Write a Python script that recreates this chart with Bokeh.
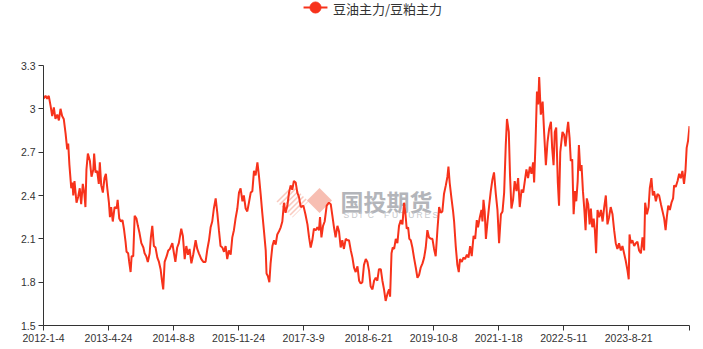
from bokeh.plotting import figure
from bokeh.layouts import column
from bokeh.models import FixedTicker, PolyAnnotation, Label, Range1d
from bokeh.core.properties import value
from bokeh.embed import file_html
from bokeh.resources import INLINE

series_name = "豆油主力/豆粕主力"

trading_day = [
    0, 10, 18, 26, 35, 43, 51, 59, 68, 76, 84, 92, 100, 109, 117, 122, 128, 137, 143, 147,
    153, 163, 171, 179, 186, 194, 202, 207, 212, 219, 229, 237, 246, 250, 257, 265, 273, 278, 285, 293,
    301, 308, 315, 323, 328, 334, 342, 351, 361, 366, 374, 382, 390, 397, 405, 410, 418, 423, 430, 435,
    443, 450, 459, 466, 474, 483, 493, 499, 507, 515, 524, 530, 537, 545, 553, 562, 570, 578, 584, 591,
    598, 608, 616, 624, 636, 644, 651, 660, 668, 680, 688, 697, 705, 713, 721, 730, 739, 751, 759, 767,
    779, 789, 800, 809, 817, 825, 833, 841, 850, 858, 866, 874, 883, 891, 899, 907, 915, 924, 932, 940,
    948, 957, 965, 973, 982, 989, 998, 1006, 1014, 1023, 1031, 1039, 1047, 1056, 1064, 1072, 1080, 1088, 1097, 1101,
    1108, 1115, 1121, 1130, 1138, 1146, 1154, 1162, 1171, 1179, 1187, 1195, 1204, 1212, 1220, 1228, 1236, 1245, 1253, 1261,
    1270, 1283, 1293, 1303, 1311, 1319, 1327, 1335, 1344, 1352, 1360, 1365, 1372, 1380, 1388, 1398, 1409, 1418, 1426, 1434,
    1442, 1451, 1459, 1467, 1475, 1483, 1492, 1500, 1508, 1517, 1525, 1533, 1541, 1550, 1558, 1566, 1574, 1582, 1591, 1599,
    1607, 1615, 1624, 1632, 1640, 1648, 1656, 1665, 1673, 1681, 1689, 1698, 1706, 1711, 1718, 1724, 1731, 1739, 1747, 1755,
    1764, 1772, 1780, 1787, 1793, 1800, 1806, 1813, 1821, 1829, 1838, 1846, 1854, 1862, 1871, 1879, 1887, 1895, 1903, 1912,
    1920, 1928, 1936, 1945, 1953, 1961, 1969, 1977, 1986, 1994, 1999, 2005, 2014, 2022, 2027, 2035, 2043, 2050, 2056, 2065,
    2073, 2081, 2090, 2098, 2106, 2114, 2123, 2131, 2139, 2145, 2154, 2162, 2167, 2172, 2178, 2184, 2192, 2200, 2208, 2216,
    2224, 2233, 2241, 2249, 2258, 2266, 2274, 2282, 2288, 2297, 2303, 2310, 2318, 2326, 2335, 2343, 2351, 2360, 2368, 2376,
    2384, 2392, 2401, 2409, 2417, 2422, 2429, 2436, 2442, 2447, 2455, 2464, 2472, 2480, 2488, 2496, 2505, 2511, 2518, 2524,
    2531, 2539, 2545, 2551, 2562, 2570, 2577, 2583, 2590, 2597, 2603, 2610, 2617, 2624, 2630, 2637, 2643, 2650, 2656, 2663,
    2670, 2676, 2682, 2689, 2696, 2702, 2709, 2716, 2722, 2728, 2735, 2743, 2752, 2760, 2768, 2776, 2784, 2792, 2800, 2809,
    2817, 2825, 2833, 2841, 2850, 2858, 2866, 2874, 2883, 2889, 2893, 2899, 2907, 2916, 2924, 2932, 2940, 2949, 2957, 2965,
    2970, 2979, 2987, 2993, 3001, 3008, 3014, 3023, 3031, 3039, 3048, 3056, 3064, 3071, 3077, 3084, 3092, 3100, 3108, 3113,
    3121, 3130, 3138, 3146, 3154, 3162, 3169, 3175, 3182, 3189,
]

ratio = [
    3.07, 3.09, 3.07, 3.09, 3.02, 2.95, 3.01, 2.93, 2.96, 2.92, 3.00, 2.95, 2.93, 2.83, 2.72, 2.76, 2.61, 2.45, 2.49, 2.40,
    2.50, 2.35, 2.39, 2.45, 2.34, 2.48, 2.41, 2.32, 2.58, 2.69, 2.64, 2.53, 2.58, 2.69, 2.56, 2.57, 2.48, 2.63, 2.47, 2.42,
    2.52, 2.55, 2.45, 2.35, 2.25, 2.32, 2.22, 2.32, 2.31, 2.37, 2.24, 2.22, 2.23, 2.17, 2.08, 2.01, 2.00, 1.94, 1.87, 1.98,
    1.98, 2.26, 2.24, 2.19, 2.14, 2.07, 2.04, 2.00, 1.98, 1.94, 2.00, 2.11, 2.19, 2.05, 2.04, 1.97, 1.94, 1.89, 1.82, 1.75,
    1.94, 1.98, 2.02, 2.03, 2.07, 2.00, 1.94, 2.04, 2.07, 2.17, 2.12, 1.96, 2.05, 1.99, 2.03, 1.93, 1.99, 2.09, 2.03, 2.00,
    1.96, 1.94, 1.94, 2.03, 2.09, 2.18, 2.22, 2.31, 2.38, 2.28, 2.16, 2.05, 2.04, 2.01, 2.05, 1.96, 2.02, 1.99, 2.11, 2.16,
    2.24, 2.31, 2.42, 2.45, 2.36, 2.40, 2.31, 2.29, 2.35, 2.42, 2.43, 2.57, 2.54, 2.63, 2.53, 2.41, 2.28, 2.16, 2.02, 1.86,
    1.84, 1.80, 1.93, 2.05, 2.09, 2.06, 2.13, 2.15, 2.18, 2.22, 2.35, 2.28, 2.33, 2.42, 2.47, 2.44, 2.50, 2.49, 2.42, 2.39,
    2.32, 2.33, 2.27, 2.20, 2.11, 2.04, 2.09, 2.17, 2.16, 2.18, 2.16, 2.25, 2.11, 2.19, 2.22, 2.33, 2.35, 2.34, 2.26, 2.18,
    2.11, 2.19, 2.15, 2.04, 2.09, 2.03, 2.10, 2.09, 2.09, 2.02, 1.97, 1.90, 1.87, 1.91, 1.81, 1.79, 1.80, 1.92, 1.96, 1.94,
    1.88, 1.77, 1.75, 1.81, 1.83, 1.81, 1.89, 1.89, 1.81, 1.75, 1.67, 1.72, 1.75, 1.70, 2.00, 2.04, 2.03, 2.10, 2.07, 2.19,
    2.23, 2.20, 2.35, 2.27, 2.17, 2.18, 2.10, 2.09, 2.04, 1.97, 1.90, 1.83, 1.85, 1.90, 1.93, 1.97, 2.04, 2.16, 2.11, 2.10,
    2.10, 2.03, 1.98, 2.17, 2.32, 2.28, 2.29, 2.41, 2.47, 2.53, 2.60, 2.49, 2.38, 2.29, 2.22, 2.05, 1.92, 1.87, 1.96, 1.94,
    1.97, 1.96, 1.99, 1.97, 2.05, 1.98, 2.12, 2.10, 2.23, 2.18, 2.25, 2.30, 2.22, 2.37, 2.29, 2.10, 2.22, 2.33, 2.43, 2.51,
    2.56, 2.41, 2.30, 2.07, 2.27, 2.29, 2.42, 2.75, 2.93, 2.84, 2.54, 2.31, 2.37, 2.50, 2.43, 2.52, 2.32, 2.44, 2.42, 2.50,
    2.58, 2.52, 2.60, 2.55, 2.63, 2.49, 2.77, 3.12, 3.03, 3.22, 2.96, 3.05, 2.82, 2.61, 2.77, 2.86, 2.91, 2.73, 2.61, 2.84,
    2.87, 2.49, 2.33, 2.70, 2.84, 2.82, 2.74, 2.83, 2.91, 2.80, 2.64, 2.65, 2.27, 2.43, 2.36, 2.50, 2.75, 2.57, 2.61, 2.43,
    2.30, 2.16, 2.38, 2.34, 2.20, 2.31, 2.18, 2.24, 2.16, 2.00, 2.30, 2.25, 2.30, 2.22, 2.32, 2.40, 2.20, 2.25, 2.32, 2.27,
    2.16, 2.07, 2.03, 2.07, 2.02, 2.05, 2.00, 1.95, 1.88, 1.82, 2.13, 2.07, 2.09, 2.05, 2.07, 2.08, 2.02, 2.00, 2.11, 2.02,
    2.35, 2.27, 2.32, 2.45, 2.52, 2.40, 2.43, 2.36, 2.41, 2.40, 2.34, 2.29, 2.24, 2.16, 2.25, 2.33, 2.30, 2.35, 2.38, 2.47,
    2.46, 2.50, 2.55, 2.52, 2.57, 2.48, 2.57, 2.73, 2.78, 2.88,
]

x_end = 3189
x_tick_index = [0, 321, 642, 963, 1284, 1605, 1926, 2247, 2568, 2889]
x_tick_labels = ["2012-1-4", "2013-4-24", "2014-8-8", "2015-11-24", "2017-3-9",
                 "2018-6-21", "2019-10-8", "2021-1-18", "2022-5-11", "2023-8-21"]
y_ticks = [1.5, 1.8, 2.1, 2.4, 2.7, 3.0, 3.3]
y_tick_labels = ["1.5", "1.8", "2.1", "2.4", "2.7", "3", "3.3"]

LINE_COLOR = "#f7321b"
AXIS_COLOR = "#333333"
W = 703
HEADER_H = 26

# ---- header strip holding the legend (pixel coordinates) ----
hdr = figure(width=W, height=HEADER_H, output_backend="svg", toolbar_location=None,
             x_range=Range1d(0, W), y_range=Range1d(HEADER_H, 0),
             x_axis_location=None, y_axis_location=None,
             min_border=0, min_border_left=0, min_border_right=0,
             min_border_top=0, min_border_bottom=0)
hdr.outline_line_color = None
hdr.grid.visible = False
hdr.segment(x0=[283], y0=[7], x1=[309], y1=[7], line_color=LINE_COLOR, line_width=2)
hdr.scatter(x=[296], y=[7], size=11, fill_color=LINE_COLOR, line_color=LINE_COLOR)
hdr.text(x=[315], y=[8], text=[series_name], text_font=value("Noto Sans CJK SC"),
         text_font_size="13px", text_color="#333333", text_baseline="middle", text_align="left")

# ---- main chart ----
p = figure(width=W, height=349 - HEADER_H, output_backend="svg", toolbar_location=None,
           x_range=Range1d(0, x_end), y_range=Range1d(1.5, 3.3),
           min_border_left=43, min_border_right=14, min_border_top=65 - HEADER_H,
           min_border_bottom=24)
p.outline_line_color = None
p.grid.visible = False

FRAME_L, FRAME_W, FRAME_B, FRAME_H = 43, 646, 325, 260
def X(px):
    return (px - FRAME_L) * x_end / FRAME_W
def Y(py):
    return 1.5 + (FRAME_B - py) * 1.8 / FRAME_H

def diamond(cx, cy, h):
    return [X(cx - h), X(cx), X(cx + h), X(cx)], [Y(cy), Y(cy - h), Y(cy), Y(cy + h)]

# watermark (underlay)
scx, scy, sh = 292, 201, 16
c = -sh
while c < sh:
    c2 = min(c + 2.2, sh)
    pts = [((c + sh) / 2, (c - sh) / 2), ((c - sh) / 2, (c + sh) / 2),
           ((c2 - sh) / 2, (c2 + sh) / 2), ((c2 + sh) / 2, (c2 - sh) / 2)]
    p.add_layout(PolyAnnotation(xs=[X(scx + a) for a, b in pts], ys=[Y(scy + b) for a, b in pts],
                                fill_color="#f6b3a4", fill_alpha=0.7, line_color=None, level="underlay"))
    c += 5.2

dx, dy = diamond(319, 200, 12.5)
p.add_layout(PolyAnnotation(xs=dx, ys=dy, fill_color="#f6b3a4", fill_alpha=0.85,
                            line_color=None, level="underlay"))
p.add_layout(Label(x=X(340), y=Y(200), text="国投期货", text_font="Noto Sans CJK SC",
                   text_font_size="23px", text_font_style="bold", text_color="#b3b5ba",
                   text_baseline="middle", text_align="left", level="underlay"))
for i, ch in enumerate("SDIC FUTURES"):
    p.add_layout(Label(x=X(343 + i * 8.1), y=Y(214), text=ch, text_font="Liberation Sans",
                       text_font_size="8.5px", text_color="#c6c8cc",
                       text_baseline="middle", text_align="left", level="underlay"))

p.line(trading_day, ratio, line_color=LINE_COLOR, line_width=2)

for ax in (p.xaxis[0], p.yaxis[0]):
    ax.axis_line_color = AXIS_COLOR
    ax.major_tick_line_color = AXIS_COLOR
    ax.minor_tick_line_color = None
    ax.major_tick_out = 5
    ax.major_tick_in = 0
    ax.major_label_text_font = "Liberation Sans"
    ax.major_label_text_font_size = "10.5px"
    ax.major_label_text_color = AXIS_COLOR
    ax.major_label_standoff = 3

p.xaxis.ticker = FixedTicker(ticks=x_tick_index + [x_end])
xo = {t: l for t, l in zip(x_tick_index, x_tick_labels)}
xo[x_end] = ""
p.xaxis.major_label_overrides = xo
p.yaxis.ticker = FixedTicker(ticks=y_ticks)
p.yaxis.major_label_overrides = {t: l for t, l in zip(y_ticks, y_tick_labels)}

layout = column(hdr, p, spacing=0)
open("out.html", "w").write(file_html(layout, INLINE))
